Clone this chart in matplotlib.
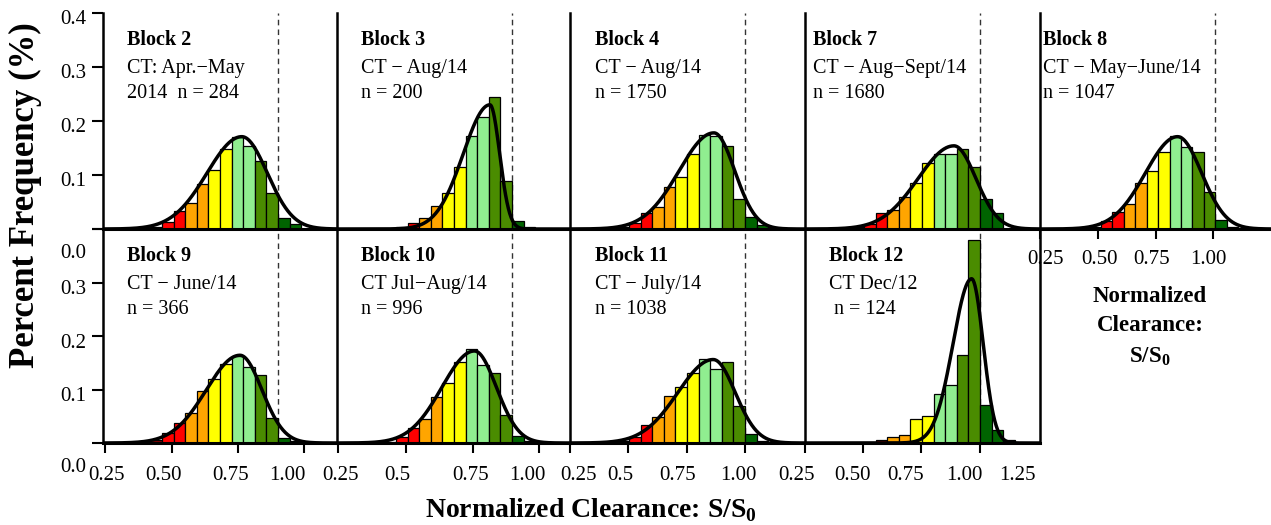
import numpy as np
import matplotlib
matplotlib.use('Agg')
import matplotlib.pyplot as plt

plt.rcParams['font.family'] = 'Liberation Serif'
plt.rcParams['mathtext.fontset'] = 'custom'
plt.rcParams['mathtext.rm'] = 'Liberation Serif'
plt.rcParams['mathtext.bf'] = 'Liberation Serif:bold'

# ---- data -------------------------------------------------------------
bin_left = [0.45, 0.50, 0.55, 0.60, 0.65, 0.70, 0.75, 0.80, 0.85, 0.90, 0.95, 1.00, 1.05, 1.10]
bin_width = 0.05
threshold = 1.0

block_names = ['Block 2', 'Block 3', 'Block 4', 'Block 7', 'Block 8',
               'Block 9', 'Block 10', 'Block 11', 'Block 12']
block_periods = ['CT: Apr.\u2212May', 'CT \u2212 Aug/14', 'CT \u2212 Aug/14',
                 'CT \u2212 Aug\u2212Sept/14', 'CT \u2212 May\u2212June/14',
                 'CT \u2212 June/14', 'CT Jul\u2212Aug/14', 'CT \u2212 July/14', 'CT Dec/12']
block_counts = ['2014  n = 284', 'n = 200', 'n = 1750', 'n = 1680', 'n = 1047',
                'n = 366', 'n = 996', 'n = 1038', ' n = 124']

freq_b2 = [0.004, 0.0135, 0.033, 0.049, 0.083, 0.109, 0.148, 0.171, 0.154, 0.126, 0.066, 0.020, 0.010, 0.0]
freq_b3 = [0.0, 0.004, 0.012, 0.020, 0.043, 0.067, 0.114, 0.172, 0.208, 0.245, 0.088, 0.015, 0.004, 0.0]
freq_b4 = [0.003, 0.012, 0.029, 0.041, 0.078, 0.097, 0.139, 0.174, 0.172, 0.154, 0.055, 0.022, 0.007, 0.0]
freq_b7 = [0.004, 0.010, 0.029, 0.036, 0.059, 0.086, 0.123, 0.139, 0.139, 0.148, 0.115, 0.055, 0.030, 0.0]
freq_b8 = [0.003, 0.015, 0.032, 0.046, 0.086, 0.108, 0.143, 0.172, 0.151, 0.143, 0.069, 0.017, 0.004, 0.0]
freq_b9 = [0.006, 0.0185, 0.037, 0.057, 0.098, 0.119, 0.147, 0.162, 0.142, 0.127, 0.046, 0.009, 0.003, 0.0]
freq_b10 = [0.002, 0.011, 0.028, 0.044, 0.086, 0.112, 0.151, 0.176, 0.145, 0.130, 0.052, 0.0136, 0.003, 0.0]
freq_b11 = [0.003, 0.011, 0.034, 0.048, 0.087, 0.105, 0.131, 0.157, 0.139, 0.152, 0.069, 0.017, 0.003, 0.0]
freq_b12 = [0.0, 0.0, 0.005, 0.011, 0.015, 0.044, 0.051, 0.091, 0.109, 0.165, 0.380, 0.071, 0.025, 0.006]

# fitted curve: mode, peak, left spread, right spread
fit_mode = [0.844, 0.905, 0.866, 0.888, 0.835, 0.836, 0.838, 0.863, 0.964]
fit_peak = [0.171, 0.230, 0.178, 0.154, 0.171, 0.164, 0.172, 0.156, 0.307]
fit_sl = [0.150, 0.115, 0.150, 0.155, 0.140, 0.145, 0.140, 0.152, 0.080]
fit_sr = [0.110, 0.042, 0.090, 0.095, 0.105, 0.095, 0.095, 0.095, 0.050]

freqs = [freq_b2, freq_b3, freq_b4, freq_b7, freq_b8, freq_b9, freq_b10, freq_b11, freq_b12]

# ---- style ------------------------------------------------------------
bin_colors = ['#8b0000', '#ff0000', '#ff0000', '#ffa500', '#ffa500', '#ffff00', '#ffff00',
              '#90ee90', '#90ee90', '#4a8c00', '#4a8c00', '#006400', '#006400', '#006400']

W, H = 1271, 525
PX = 231.7      # pixels per unit of S/S0
X0 = 0.245
cols = [(103, 234), (337, 233), (570, 235), (805, 235), (1040, 231)]
rows = [(13, 216), (229, 214)]
text_dx = [24, 24, 25, 8, 3, 24, 24, 25, 24]

# tick marks and label positions (the original labels sit a bit off the marks)
xtick_marks = {4: [0.236, 0.490, 0.740, 0.990],
               5: [0.254, 0.543, 0.828, 1.113],
               6: [0.249, 0.543, 0.832, 1.117],
               7: [0.245, 0.495, 0.750, 1.000],
               8: [0.245, 0.495, 0.746, 1.000]}
xtick_lpos = {4: [0.262, 0.495, 0.724, 0.970],
              5: [0.262, 0.504, 0.797, 1.039],
              6: [0.258, 0.504, 0.823, 1.065],
              7: [0.280, 0.461, 0.711, 0.970],
              8: [0.210, 0.452, 0.681, 0.931, 1.160]}
xtick_text = {4: ['0.25', '0.50', '0.75', '1.00'],
              5: ['0.25', '0.50', '0.75', '1.00'],
              6: ['0.25', '0.5', '0.75', '1.00'],
              7: ['0.25', '0.5', '0.75', '1.00'],
              8: ['0.25', '0.50', '0.75', '1.00', '1.25']}


def fit_curve(x, mode, peak, sl, sr):
    s = np.where(x < mode, sl, sr)
    return peak * np.exp(-0.5 * ((x - mode) / s) ** 2)


fig = plt.figure(figsize=(W / 100, H / 100), dpi=100)

for i in range(9):
    if i < 5:
        left, width = cols[i]
        top, height = rows[0]
    else:
        left, width = cols[i - 5]
        top, height = rows[1]
    ax = fig.add_axes([left / W, 1 - (top + height) / H, width / W, height / H])
    ax.patch.set_visible(False)
    xmax = X0 + width / PX
    ax.set_xlim(X0, xmax)
    ax.set_ylim(0, 0.4)

    f = np.array(freqs[i])
    keep = f > 0
    ax.bar(np.array(bin_left)[keep], f[keep], width=bin_width, align='edge',
           color=np.array(bin_colors)[keep], edgecolor='black', linewidth=0.9, zorder=2)
    xs = np.linspace(X0, xmax, 500)
    ax.plot(xs, fit_curve(xs, fit_mode[i], fit_peak[i], fit_sl[i], fit_sr[i]),
            color='black', lw=2.5, zorder=3)
    ax.axvline(threshold, color='#333333', lw=1.0, ls=(0, (4, 3)), zorder=1)

    for s in ['top', 'right']:
        ax.spines[s].set_visible(False)
    ax.spines['left'].set_linewidth(1.8)
    ax.spines['bottom'].set_linewidth(2.2)
    if i == 8:
        ax.spines['right'].set_visible(True)
        ax.spines['right'].set_linewidth(1.8)

    # y ticks on first column only
    if i in (0, 5):
        ax.set_yticks([0, 0.1, 0.2, 0.3, 0.4])
        ax.tick_params(axis='y', direction='out', length=8, width=1.5, labelleft=False)
        ylabs = ['0.1', '0.2', '0.3', '0.4'] if i == 0 else ['0.1', '0.2', '0.3']
        for k, lab in enumerate(ylabs):
            ax.annotate(lab, xy=(0, 0.1 * (k + 1)), xycoords=('axes fraction', 'data'),
                        xytext=(-17, -7), textcoords='offset pixels', ha='right',
                        va='center', fontsize=15, annotation_clip=False)
        ax.annotate('0.0', xy=(0, 0), xycoords=('axes fraction', 'data'),
                    xytext=(-17, -24), textcoords='offset pixels', ha='right',
                    va='center', fontsize=15, annotation_clip=False)
    else:
        ax.set_yticks([])

    if i in xtick_marks:
        ax.set_xticks(xtick_marks[i])
        ax.tick_params(axis='x', direction='out', length=7, width=1.5, labelbottom=False)
        off = -31 if i == 4 else -33
        for xp, lab in zip(xtick_lpos[i], xtick_text[i]):
            ax.annotate(lab, xy=(xp, 0), xycoords=('data', 'axes fraction'),
                        xytext=(0, off), textcoords='offset pixels', ha='center',
                        va='center', fontsize=15, annotation_clip=False)
    else:
        ax.set_xticks([])

    tx = text_dx[i] / width
    ax.text(tx, 1 - 32 / height, block_names[i], transform=ax.transAxes,
            fontsize=14.5, fontweight='bold', va='baseline', ha='left')
    ax.text(tx, 1 - 60 / height, block_periods[i], transform=ax.transAxes,
            fontsize=14.5, va='baseline', ha='left')
    ax.text(tx, 1 - 85 / height, block_counts[i], transform=ax.transAxes,
            fontsize=14.5, va='baseline', ha='left')

fig.text(25 / W, 1 - 195 / H, 'Percent Frequency (%)', rotation=90, fontsize=25,
         fontweight='bold', ha='center', va='center')
fig.text(591 / W, 1 - 517 / H, r'Normalized Clearance: S/S$_\mathbf{0}$', fontsize=20,
         fontweight='bold', ha='center', va='baseline')
fig.text(1150 / W, 1 - 302 / H, 'Normalized', fontsize=16.5, fontweight='bold',
         ha='center', va='baseline')
fig.text(1150 / W, 1 - 331 / H, 'Clearance:', fontsize=16.5, fontweight='bold',
         ha='center', va='baseline')
fig.text(1150 / W, 1 - 362 / H, r'S/S$_\mathbf{0}$', fontsize=16.5, fontweight='bold',
         ha='center', va='baseline')

fig.savefig('out.png', dpi=100)
